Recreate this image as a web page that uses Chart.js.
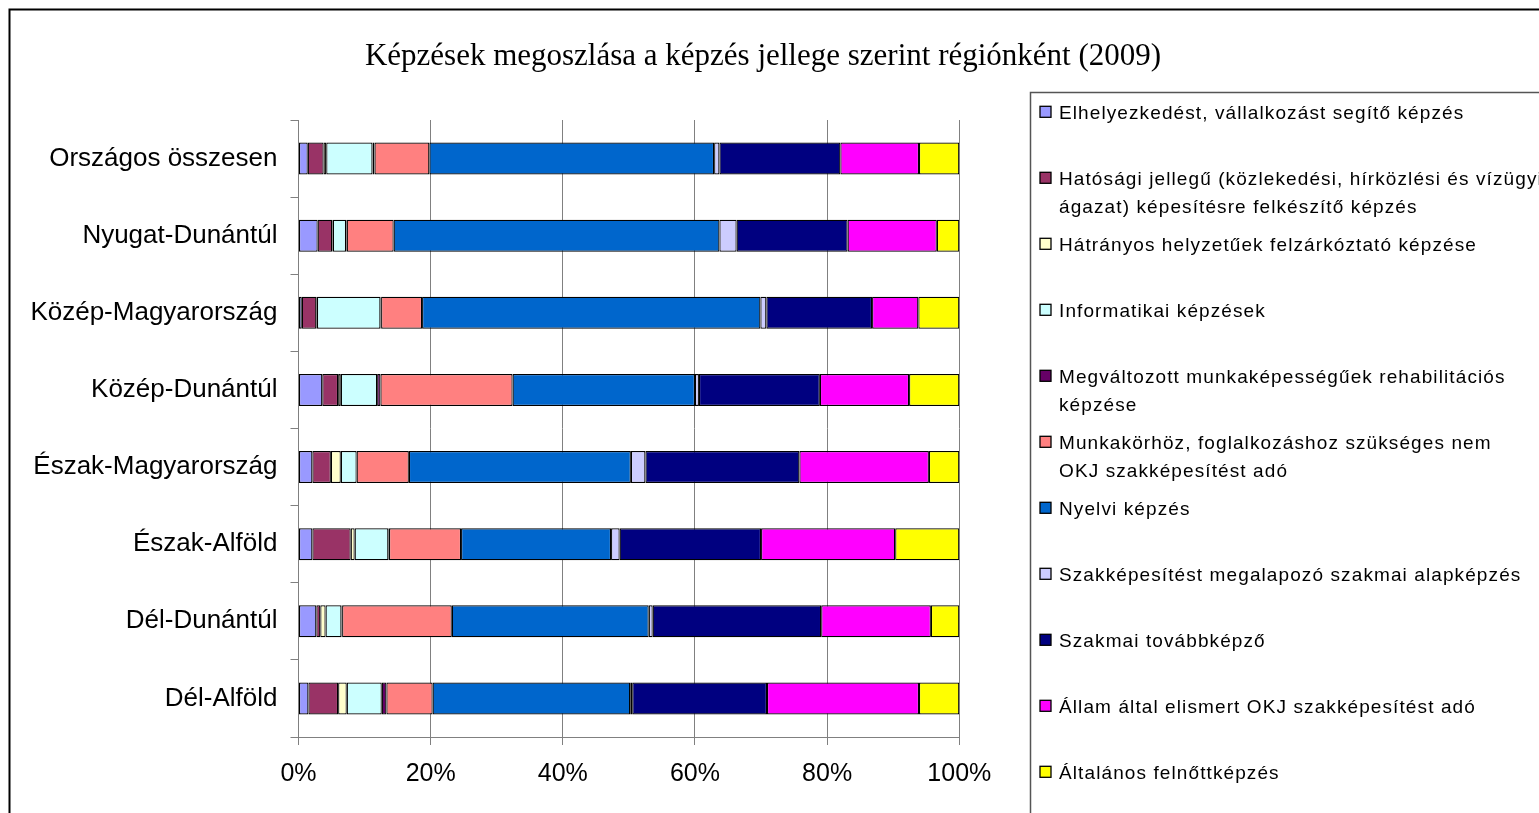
<!DOCTYPE html>
<html>
<head>
<meta charset="utf-8">
<script src="https://cdn.jsdelivr.net/npm/chart.js@4"></script>
<style>
  body { margin: 0; background: #fff; }
  #wrap { width: 1539px; height: 813px; position: relative; }
</style>
</head>
<body>
<div id="wrap"><canvas id="chart"></canvas></div>
<script>
const regions = ['Országos összesen', 'Nyugat-Dunántúl', 'Közép-Magyarország', 'Közép-Dunántúl',
                 'Észak-Magyarország', 'Észak-Alföld', 'Dél-Dunántúl', 'Dél-Alföld'];

// share of each training type, % per region
const elhelyezkedes = [1.4, 2.9, 0.5, 3.6, 2.1, 2.1, 2.7, 1.5];
const hatosagi      = [2.4, 2.2, 2.2, 2.4, 2.8, 5.8, 0.6, 4.5];
const hatranyos     = [0.4, 0.1, 0.1, 0.4, 1.5, 0.6, 0.8, 1.3];
const informatikai  = [7.0, 2.0, 9.6, 5.5, 2.4, 5.1, 2.4, 5.3];
const megvaltozott  = [0.3, 0.1, 0.1, 0.5, 0.0, 0.1, 0.1, 0.7];
const munkakorhoz   = [8.3, 7.1, 6.2, 20.0, 7.9, 10.9, 16.6, 7.0];
const nyelvi        = [43.1, 49.3, 51.2, 27.6, 33.6, 22.7, 29.8, 29.9];
const szakalap      = [0.8, 2.6, 0.9, 0.6, 2.2, 1.3, 0.6, 0.3];
const szakmai       = [18.3, 16.8, 16.0, 18.3, 23.3, 21.4, 25.5, 20.4];
const allami        = [11.9, 13.5, 7.0, 13.5, 19.6, 20.3, 16.6, 23.0];
const altalanos     = [6.1, 3.4, 6.2, 7.6, 4.6, 9.7, 4.3, 6.1];

const xTicks = [0, 20, 40, 60, 80, 100];

const series = [
  { label: ['Elhelyezkedést, vállalkozást segítő képzés'], data: elhelyezkedes, color: '#9999FF' },
  { label: ['Hatósági jellegű (közlekedési, hírközlési és vízügyi', 'ágazat) képesítésre felkészítő képzés'], data: hatosagi, color: '#993366' },
  { label: ['Hátrányos helyzetűek felzárkóztató képzése'], data: hatranyos, color: '#FFFFCC' },
  { label: ['Informatikai képzések'], data: informatikai, color: '#CCFFFF' },
  { label: ['Megváltozott munkaképességűek rehabilitációs', 'képzése'], data: megvaltozott, color: '#660066' },
  { label: ['Munkakörhöz, foglalkozáshoz szükséges nem', 'OKJ szakképesítést adó'], data: munkakorhoz, color: '#FF8080' },
  { label: ['Nyelvi képzés'], data: nyelvi, color: '#0066CC' },
  { label: ['Szakképesítést megalapozó szakmai alapképzés'], data: szakalap, color: '#CCCCFF' },
  { label: ['Szakmai továbbképző'], data: szakmai, color: '#000080' },
  { label: ['Állam által elismert OKJ szakképesítést adó'], data: allami, color: '#FF00FF' },
  { label: ['Általános felnőttképzés'], data: altalanos, color: '#FFFF00' }
];

Chart.defaults.font.family = '"Liberation Sans", Arial, sans-serif';
Chart.defaults.color = '#000';

const frame = {
  id: 'frame',
  beforeDraw(chart) {
    const ctx = chart.ctx;
    ctx.save();
    ctx.fillStyle = '#fff';
    ctx.fillRect(0, 0, chart.width, chart.height);
    ctx.strokeStyle = '#000';
    ctx.lineWidth = 2;
    ctx.strokeRect(9.5, 9.5, 2000, 2000);
    // title
    ctx.fillStyle = '#000';
    ctx.font = '31px "Liberation Serif", "Times New Roman", serif';
    ctx.textAlign = 'center';
    ctx.textBaseline = 'alphabetic';
    ctx.fillText('Képzések megoszlása a képzés jellege szerint régiónként (2009)', 763, 65);
    ctx.restore();
  },
  afterDraw(chart) {
    const ctx = chart.ctx;
    ctx.save();
    ctx.strokeStyle = '#555';
    ctx.lineWidth = 1.5;
    ctx.strokeRect(1030.5, 92.5, 1000, 1000);
    ctx.font = '19px "Liberation Sans", Arial, sans-serif';
    ctx.letterSpacing = '1.1px';
    ctx.textBaseline = 'alphabetic';
    ctx.textAlign = 'left';
    series.forEach((s, i) => {
      const base = 119.3 + i * 66;
      ctx.fillStyle = s.color;
      ctx.fillRect(1040, base - 13, 11, 11);
      ctx.strokeStyle = '#000';
      ctx.lineWidth = 1.3;
      ctx.strokeRect(1040, base - 13, 11, 11);
      ctx.fillStyle = '#000';
      s.label.forEach((line, j) => ctx.fillText(line, 1059, base + j * 28));
    });
    ctx.restore();
  }
};

new Chart(document.getElementById('chart'), {
  type: 'bar',
  data: {
    labels: regions,
    datasets: series.map(s => ({
      label: s.label.join(' '),
      data: s.data,
      backgroundColor: s.color,
      borderColor: '#000',
      borderWidth: 1.2,
      borderSkipped: false,
      barPercentage: 0.415,
      categoryPercentage: 1
    }))
  },
  options: {
    indexAxis: 'y',
    responsive: true,
    maintainAspectRatio: false,
    animation: false,
    layout: { padding: { top: 120, right: 579.7, bottom: 0, left: 0 } },
    plugins: {
      legend: { display: false },
      title: { display: false },
      tooltip: { enabled: false }
    },
    scales: {
      x: {
        stacked: true,
        min: 0,
        max: 100,
        afterBuildTicks: scale => { scale.ticks = xTicks.map(v => ({ value: v })); },
        afterFit: scale => { scale.height = 76; },
        ticks: {
          callback: v => v + '%',
          font: { size: 25 },
          padding: 14,
          maxRotation: 0
        },
        grid: { color: '#808080', tickLength: 8, lineWidth: 1 },
        border: { color: '#808080', width: 1 }
      },
      y: {
        stacked: true,
        afterFit: scale => { scale.width = 298.5; },
        ticks: { font: { size: 26 }, padding: 13 },
        grid: { drawOnChartArea: false, offset: true, color: '#808080', tickLength: 8 },
        border: { color: '#808080', width: 1 }
      }
    }
  },
  plugins: [frame]
});
</script>
</body>
</html>
